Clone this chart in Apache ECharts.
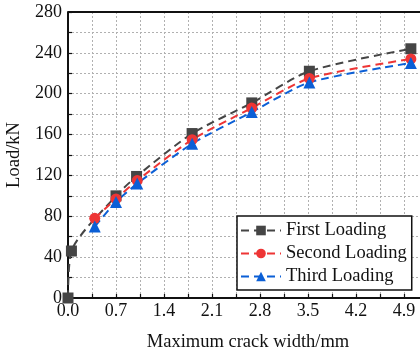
<!DOCTYPE html>
<html>
<head>
<meta charset="utf-8">
<script src="https://cdn.jsdelivr.net/npm/echarts@6/dist/echarts.min.js"></script>
<style>
  html, body { margin: 0; padding: 0; background: #fff; }
  #chart { width: 420px; height: 352px; }
</style>
</head>
<body>
<div id="chart"></div>
<script>
// Crack width (mm) and load (kN) for each loading cycle
const firstWidth  = [0.0, 0.05, 0.70, 1.00, 1.81, 2.68, 3.52, 5.00];
const firstLoad   = [0, 46, 100, 119, 161, 191, 222, 244];
const secondWidth = [0.39, 0.70, 1.01, 1.81, 2.68, 3.52, 5.00];
const secondLoad  = [78, 97, 115, 155, 186, 215, 234];
const thirdWidth  = [0.39, 0.70, 1.01, 1.81, 2.68, 3.52, 5.00];
const thirdLoad   = [70, 94, 112, 151, 182, 211, 230];

const seriesNames = ['First Loading', 'Second Loading', 'Third Loading'];
const xTicks = [0.0, 0.7, 1.4, 2.1, 2.8, 3.5, 4.2, 4.9];

const pair = (xs, ys) => xs.map((x, i) => [x, ys[i]]);

const font = 'Liberation Serif, Times New Roman, serif';
const colors = ['#454545', '#ee3535', '#0b5fd6'];

const chart = echarts.init(document.getElementById('chart'));

function makeSeries(name, data, color, symbol, size) {
  return {
    name: name,
    type: 'line',
    data: data,
    smooth: 0.25,
    clip: false,
    symbol: symbol,
    symbolSize: size,
    showAllSymbol: true,
    itemStyle: { color: color },
    lineStyle: { color: color, width: 2, type: [8, 5] },
    emphasis: { disabled: true }
  };
}

chart.setOption({
  animation: false,
  backgroundColor: '#fff',
  grid: { left: 68, top: 12, width: 360, height: 286, containLabel: false, outerBoundsMode: 'none' },
  legend: {
    orient: 'vertical',
    left: 237,
    top: 216,
    itemWidth: 40,
    itemHeight: 12,
    itemGap: 4,
    padding: [5, 5, 4, 3],
    backgroundColor: '#fff',
    borderColor: '#111',
    borderWidth: 1.5,
    borderRadius: 0,
    textStyle: { fontFamily: font, fontSize: 18.5, color: '#111' },
    data: seriesNames
  },
  xAxis: {
    type: 'value',
    min: 0,
    max: 5.25,
    interval: 0.35,
    name: 'Maximum crack width/mm',
    nameLocation: 'middle',
    nameGap: 35,
    nameTextStyle: { fontFamily: font, fontSize: 18.5, color: '#111' },
    axisLine: { onZero: false, lineStyle: { color: '#111', width: 2 } },
    axisTick: { inside: true, length: 4, lineStyle: { color: '#111', width: 1.2 } },
    axisLabel: {
      fontFamily: font, fontSize: 18, color: '#111', margin: 4,
      formatter: v => {
        const hit = xTicks.find(t => Math.abs(t - v) < 1e-6);
        return hit === undefined ? '' : hit.toFixed(1);
      }
    },
    splitLine: { show: true, lineStyle: { color: '#b0b0b0', width: 1, type: [2, 2] } }
  },
  yAxis: {
    type: 'value',
    min: 0,
    max: 280,
    interval: 20,
    name: 'Load/kN',
    nameLocation: 'middle',
    nameGap: 40,
    nameTextStyle: { fontFamily: font, fontSize: 18.5, color: '#111' },
    axisLine: { show: true, lineStyle: { color: '#111', width: 2 } },
    axisTick: { inside: true, length: 4, lineStyle: { color: '#111', width: 1.2 } },
    axisLabel: {
      fontFamily: font, fontSize: 18, color: '#111', margin: 6,
      formatter: v => (v % 40 === 0 ? String(v) : '')
    },
    splitLine: { show: true, lineStyle: { color: '#b0b0b0', width: 1, type: [2, 2] } }
  },
  series: [
    makeSeries(seriesNames[0], pair(firstWidth, firstLoad), colors[0], 'rect', 11),
    makeSeries(seriesNames[1], pair(secondWidth, secondLoad), colors[1], 'circle', 11),
    makeSeries(seriesNames[2], pair(thirdWidth, thirdLoad), colors[2], 'triangle', 12),
    // top frame line of the plot box
    {
      type: 'line', data: [], silent: true,
      markLine: {
        silent: true, symbol: 'none', label: { show: false },
        lineStyle: { color: '#111', width: 2, type: 'solid' },
        data: [[{ coord: [0, 280] }, { coord: [5.25, 280] }]]
      }
    }
  ]
});
</script>
</body>
</html>
